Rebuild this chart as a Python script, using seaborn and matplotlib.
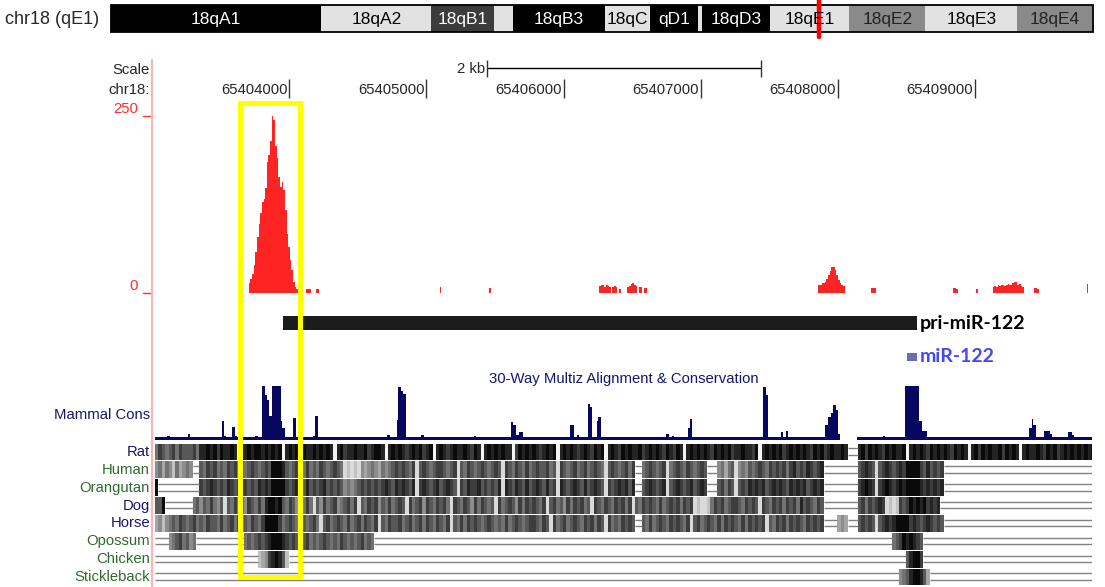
import numpy as np
import pandas as pd
import matplotlib
matplotlib.use("Agg")
import matplotlib.pyplot as plt
import matplotlib.transforms as mtrans
from matplotlib.colors import LinearSegmentedColormap
from matplotlib.patches import Rectangle
from matplotlib.lines import Line2D
import seaborn as sns

# ======================= DATA =======================
# chromosome ideogram (mouse chr18, Mb)
chrom_len_mb = 90.7
band_names = ["18qA1", "18qA2", "18qB1", "", "18qB3", "18qC", "qD1", "", "18qD3",
              "18qE1", "18qE2", "18qE3", "18qE4"]
band_start_mb = [0.0, 19.4, 29.6, 35.4, 37.1, 45.6, 49.8, 54.2, 54.6, 60.9, 68.2, 75.2, 83.7]
band_stain = ["gpos100", "gneg", "gpos75", "gneg", "gpos100", "gneg", "gpos100", "gneg",
              "gpos100", "gneg", "gpos50", "gneg", "gpos50"]
locus_mb = 65.4

# browser window (bp)
view_start = 65403021
view_end = 65409852
ruler_ticks = [65404000, 65405000, 65406000, 65407000, 65408000, 65409000]
scale_bar_start = 65405440
scale_bar_bp = 2000

# red signal track (12-bp bins), groups of consecutive bins
sig_bin_bp = 12
sig_grid_start = 65403020
sig_max = 250
sig_group_start = [65403704, 65404124, 65404196, 65405096, 65405456, 65406260, 65406464,
                   65407856, 65408240, 65408840, 65409008, 65409128, 65409428, 65409812]
sig_group_values = [
    [14, 20, 27, 39, 58, 79, 98, 113, 129, 133, 148, 185, 195, 214, 250, 244, 207, 190,
     164, 150, 157, 145, 117, 84, 65, 46, 32, 16, 8, 6],
    [5, 5, 5],
    [5, 5],
    [9],
    [7],
    [10, 12, 11, 9, 12, 10, 8, 0, 9, 10, 8, 0, 6],
    [8, 10, 13, 14, 12, 10, 0, 9, 8, 0, 7, 7],
    [12, 12, 14, 14, 15, 20, 25, 31, 37, 37, 32, 25, 18, 14, 11, 10],
    [7, 7, 7],
    [7, 7, 6],
    [6],
    [9, 10, 9, 11, 10, 12, 11, 10, 12, 13, 11, 12, 14, 16, 15, 12, 13, 10, 8],
    [7, 7, 6],
    [13],
]

# gene annotations
pri_mir_start, pri_mir_end = 65403954, 65408573
mir_start, mir_end = 65408503, 65408576

# Mammal conservation (step function: value holds from position to next position)
cons_pos = [65403021, 65403108, 65403130, 65403262, 65403276, 65403509, 65403524, 65403539,
            65403582, 65403604, 65403619, 65403750, 65403772, 65403799, 65403823, 65403840,
            65403854, 65403872, 65403937, 65403949, 65403969, 65404027, 65404049, 65404173,
            65404191, 65404209, 65404712, 65404734, 65404785, 65404792, 65404814, 65404829,
            65404851, 65404960, 65404982, 65405346, 65405361, 65405616, 65405631, 65405653,
            65405675, 65405704, 65406046, 65406075, 65406097, 65406112, 65406178, 65406192,
            65406207, 65406243, 65406250, 65406272, 65406746, 65406768, 65406790, 65406804,
            65406907, 65406921, 65406936, 65407453, 65407475, 65407490, 65407584, 65407599,
            65407621, 65407636, 65407905, 65407927, 65407949, 65407964, 65407985, 65408000,
            65408015, 65408066, 65408139, 65408328, 65408343, 65408488, 65408591, 65408612,
            65408627, 65408649, 65409392, 65409414, 65409422, 65409443, 65409502, 65409546,
            65409560, 65409677, 65409706, 65409720, 65409852]
cons_val = [0.05, 0.08, 0.05, 0.11, 0.05, 0.36, 0.08, 0.05,
            0.25, 0.08, 0.05, 0.07, 0.05, 1.00, 0.83, 0.74,
            0.45, 1.00, 0.36, 0.22, 0.05, 0.41, 0.05, 0.07,
            0.45, 0.05, 0.10, 0.05, 0.37, 0.98, 0.90, 0.86,
            0.05, 0.10, 0.05, 0.07, 0.05, 0.33, 0.28, 0.10,
            0.15, 0.05, 0.28, 0.05, 0.09, 0.05, 0.66, 0.62,
            0.05, 0.36, 0.43, 0.05, 0.12, 0.05, 0.08, 0.05,
            0.22, 0.38, 0.05, 0.98, 0.83, 0.05, 0.15, 0.06,
            0.17, 0.05, 0.28, 0.43, 0.50, 0.64, 0.55, 0.12,
            0.05, np.nan, 0.05, 0.07, 0.05, 1.00, 0.36, 0.16,
            0.17, 0.05, 0.22, 0.38, 0.28, 0.05, 0.17, 0.12,
            0.05, 0.15, 0.09, 0.05, 0.05]

# multiz alignment blocks: block start (bp) + shade per 25-bp bin (0 light .. 9 black);
# everything outside blocks is unaligned (drawn as double gap line)
aln_bin_bp = 25
species = ["Rat", "Human", "Orangutan", "Dog", "Horse", "Opossum", "Chicken", "Stickleback"]

rat_starts = [65403020, 65408145]
rat_shades = [
    "5765675766" "6758898979" "8898098989" "9898989089" "8979889898" "9808978898"
    "8978998089" "8987898978" "9089878988" "9879808989" "8988079898" "9878989089"
    "8987898798" "9089879898" "8978989879" "8798089898" "9879898978" "8988790898"
    "9897898989" "8798978988" "98",
    "8979898798" "9889089898" "7989898798" "9808979898" "8979898089" "8898798978" "989898989",
]
human_starts = [65403020, 65403345, 65406570, 65407120, 65408145]
human_shades = [
    "45354253454",
    "6576756576" "7565676567" "6999865676" "5756576567" "6512121434" "5435456767"
    "6571676567" "7656716576" "5676567617" "6576575676" "6756176567" "5675676516" "7656757",
    "5676567156765765676",
    "4535614546567657676757867687678",
    "6787616787678799997686767",
]
orangutan_starts = [65403020, 65403345, 65406570, 65407120, 65408145]
orangutan_shades = [
    "9",
    "7678767687" "6787676878" "7999976787" "6867678676" "7645456767" "6767876878"
    "7681787678" "6787617687" "7867676818" "7687686787" "6867187678" "7686787617" "6787868",
    "6787678167876786787",
    "6757616768787867878768787867878",
    "7898717898789899998787878",
]
dog_starts = [65403020, 65403070, 65403295, 65408145]
dog_shades = [
    "66",
    "9",
    "5646575461" "6575647657" "5899896576" "4657516475" "6745675716" "5767465756"
    "7617567476" "5767517657" "6475765617" "5676475767" "6571675647" "5767561765"
    "7657675716" "5767657567" "6757671211" "2576756776" "5767617657" "6757675867" "6576",
    "67576787" "1212" "767989897878",
]
horse_starts = [65403020, 65406570, 65407995, 65408145]
horse_shades = [
    "3424565765" "6756576657" "5675756576" "5799997567" "6576567516" "7567657567"
    "5765716576" "6756756757" "6576571657" "5767656765" "6575676567" "7657617567"
    "5676576757" "6175657676",
    "6575676576" "7657167567" "6575767657" "5767671657" "6757676576" "767",
    "343",
    "6767616787899997876787676",
]
opossum_starts = [65403120, 65403670, 65408395]
opossum_shades = [
    "45675645",
    "5656767899" "9876765675" "6567656576" "56567565",
    "567989876",
]
chicken_starts = [65403770, 65408495]
chicken_shades = ["234789862", "68997"]
stickleback_starts = [65408445]
stickleback_shades = ["456899863"]

aln_starts = [rat_starts, human_starts, orangutan_starts, dog_starts, horse_starts,
              opossum_starts, chicken_starts, stickleback_starts]
aln_shades = [rat_shades, human_shades, orangutan_shades, dog_shades, horse_shades,
              opossum_shades, chicken_shades, stickleback_shades]

# ======================= STYLE =======================
sns.set_theme(style="white")
plt.rcParams["font.family"] = ["Liberation Sans", "DejaVu Sans"]

W, H = 1105.0, 587.0
fig = plt.figure(figsize=(W / 100, H / 100), dpi=100)
fig.patch.set_facecolor("white")


def px_axes(x0, y0, x1, y1):
    return fig.add_axes([x0 / W, 1 - y1 / H, (x1 - x0) / W, (y1 - y0) / H])


def fy(y):
    return 1 - y / H


NAVY = "#16166e"
GREEN = "#2f6b2f"
FS = 10.7
stain_fill = {"gpos100": "#000000", "gneg": "#e2e2e2", "gpos75": "#3c3c3c", "gpos50": "#8a8a8a"}
stain_text = {"gpos100": "white", "gneg": "black", "gpos75": "white", "gpos50": "#222222"}
species_color = [NAVY, GREEN, GREEN, NAVY, NAVY, GREEN, GREEN, GREEN]
shade_cmap = LinearSegmentedColormap.from_list("aln", ["#f4f4f4", "#0a0a0a"])

# ---------------- ideogram ----------------
ax_id = px_axes(111, 5, 1093, 32)
ax_id.set_axis_off()
ax_id.set_xlim(0, chrom_len_mb)
ax_id.set_ylim(0, 1)
band_end_mb = band_start_mb[1:] + [chrom_len_mb]
for name, s, e, st in zip(band_names, band_start_mb, band_end_mb, band_stain):
    ax_id.bar(s, 1, width=e - s, bottom=0, align="edge", color=stain_fill[st], linewidth=0)
    if name:
        ax_id.text((s + e) / 2, 0.47, name, ha="center", va="center", color=stain_text[st],
                   fontsize=12.5)
ax_id.add_patch(Rectangle((0, 0), chrom_len_mb, 1, fill=False, ec="black", lw=1.3, clip_on=False))
ax_id.axvline(locus_mb, ymin=-0.2, ymax=1.2, clip_on=False, color="#ff0000", lw=3.2)
fig.text(5 / W, fy(19), "chr18 (qE1)", ha="left", va="center", fontsize=13)

# ---------------- ruler ----------------
ax_r = px_axes(155, 55, 1092, 100)
ax_r.set_axis_off()
ax_r.set_xlim(view_start, view_end)
ax_r.set_ylim(100, 55)
ax_r.vlines(ruler_ticks, 79, 98, color="#333333", lw=1)
left_off = mtrans.offset_copy(ax_r.transData, fig=fig, x=-2, y=0, units="dots")
for t in ruler_ticks:
    ax_r.text(t, 89.5, f"{t}", transform=left_off, ha="right", va="center", fontsize=FS)
ax_r.hlines(68, scale_bar_start, scale_bar_start + scale_bar_bp, color="black", lw=1)
ax_r.vlines([scale_bar_start, scale_bar_start + scale_bar_bp], 60, 77, color="#333333", lw=1)
ax_r.text(scale_bar_start, 69, "2 kb", transform=left_off, ha="right", va="center", fontsize=FS)
fig.text(150 / W, fy(70), "Scale", ha="right", va="center", fontsize=FS)
fig.text(150 / W, fy(90), "chr18:", ha="right", va="center", fontsize=FS)

# ---------------- red signal ----------------
ax_s = px_axes(155, 116, 1092, 293)
sig_x, sig_w = [], []
for start, vals in zip(sig_group_start, sig_group_values):
    for k, v in enumerate(vals):
        sig_x.append(start + sig_bin_bp * k + sig_bin_bp / 2)
        sig_w.append(v)
sig_df = pd.DataFrame({"pos": sig_x, "signal": sig_w})
n_bins = int(np.ceil((view_end - sig_grid_start) / sig_bin_bp))
sns.histplot(data=sig_df, x="pos", weights="signal", binwidth=sig_bin_bp,
             binrange=(sig_grid_start, sig_grid_start + n_bins * sig_bin_bp),
             ax=ax_s, color="#ff2424", alpha=1, linewidth=0, element="bars", fill=True)
ax_s.set_xlim(view_start, view_end)
ax_s.set_ylim(0, sig_max)
ax_s.set_axis_off()
ytr = mtrans.blended_transform_factory(fig.transFigure, ax_s.transData)
for v in (0, sig_max):
    ax_s.plot([143 / W, 152 / W], [v, v], transform=ytr, color="#ff3030", lw=1, clip_on=False)
fig.text(138 / W, fy(109), "250", ha="right", va="center", fontsize=FS, color="#ff2a2a")
fig.text(138 / W, fy(286), "0", ha="right", va="center", fontsize=FS, color="#ff2a2a")

# ---------------- gene annotations ----------------
ax_g = px_axes(155, 305, 1092, 370)
ax_g.set_axis_off()
ax_g.set_xlim(view_start, view_end)
ax_g.set_ylim(370, 305)
ax_g.barh(323, pri_mir_end - pri_mir_start, left=pri_mir_start, height=14, color="#1c1c1c",
          linewidth=0)
ax_g.barh(357, mir_end - mir_start, left=mir_start, height=8, color="#6c6cb4", linewidth=0)
right_off = mtrans.offset_copy(ax_g.transData, fig=fig, x=3, y=0, units="dots")
ax_g.text(pri_mir_end, 323, "pri-miR-122", transform=right_off, ha="left", va="center",
          fontsize=14, fontweight="bold", color="black", family=["Lato", "DejaVu Sans"])
ax_g.text(mir_end, 356, "miR-122", transform=right_off, ha="left", va="center",
          fontsize=14, fontweight="bold", color="#4747f2", family=["Lato", "DejaVu Sans"])

fig.text(624 / W, fy(379), "30-Way Multiz Alignment & Conservation", ha="center", va="center",
         fontsize=FS, color=NAVY)

# ---------------- conservation ----------------
ax_c = px_axes(155, 386, 1092, 440)
ax_c.set_axis_off()
ax_c.set_xlim(view_start, view_end)
ax_c.set_ylim(0, 1)
ax_c.fill_between(cons_pos, 0, cons_val, step="post", color="#07075f", linewidth=0)
fig.text(150 / W, fy(415), "Mammal Cons", ha="right", va="center", fontsize=FS, color=NAVY)

# ---------------- species alignment rows ----------------
ax_a = px_axes(155, 443, 1092, 586)
ax_a.set_axis_off()
ax_a.set_xlim(view_start, view_end)
ax_a.set_ylim(len(species), 0)
for r, (starts, shades) in enumerate(zip(aln_starts, aln_shades)):
    gap_from = view_start
    for b0, sh in zip(starts, shades):
        vals = np.array([float(c) for c in sh])
        edges = b0 + aln_bin_bp * np.arange(len(sh) + 1)
        ax_a.pcolormesh(edges, [r + 0.03, r + 0.97], vals[None, :], cmap=shade_cmap,
                        vmin=0, vmax=9, shading="flat", edgecolors="none", antialiased=False)
        if b0 > gap_from:
            ax_a.hlines([r + 0.3, r + 0.66], gap_from, b0, color="#808080", lw=1)
        gap_from = edges[-1]
    if gap_from < view_end:
        ax_a.hlines([r + 0.3, r + 0.66], gap_from, view_end, color="#808080", lw=1)

lab_tr = mtrans.blended_transform_factory(fig.transFigure, ax_a.transData)
for r, (name, col) in enumerate(zip(species, species_color)):
    ax_a.text(150 / W, r + 0.5, name, transform=lab_tr, ha="right", va="center",
              fontsize=FS, color=col)

# ---------------- decorations ----------------
fig.add_artist(Line2D([152 / W, 152 / W], [fy(60), fy(587)], color="#ffb3b3", lw=1.5))
fig.add_artist(Rectangle((239.5 / W, fy(576.5)), 60 / W, (576.5 - 102.5) / H,
                         transform=fig.transFigure, fill=False, ec="#ffff00", lw=3.7, zorder=20))

fig.savefig("out.png", dpi=100)
